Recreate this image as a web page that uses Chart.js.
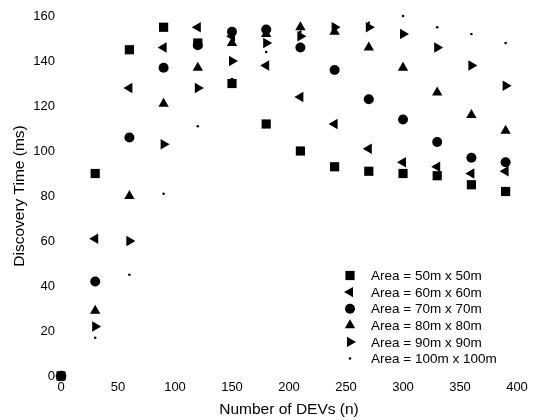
<!DOCTYPE html>
<html>
<head>
<meta charset="utf-8">
<script src="https://cdn.jsdelivr.net/npm/chart.js@4"></script>
<style>
  html, body { margin: 0; padding: 0; background: #fff; }
  #wrap { width: 537px; height: 420px; position: relative; }
</style>
</head>
<body>
<div id="wrap"><canvas id="discoveryChart"></canvas></div>
<script>
// number of DEVs on the x axis
var devCounts = [0, 30, 60, 90, 120, 150, 180, 210, 240, 270, 300, 330, 360, 390];
// discovery time (ms) per area size
var area50 = [0, 90, 145, 155, 148, 130, 112, 100, 93, 91, 90, 89, 85, 82];
var area60 = [0, 61, 128, 146, 155, 151, 138, 124, 112, 101, 95, 93, 90, 91];
var area70 = [0, 42, 106, 137, 147, 153, 154, 146, 136, 123, 114, 104, 97, 95];
var area80 = [0, 29, 80, 121, 137, 148, 152, 155, 153, 146, 137, 126, 116, 109];
var area90 = [0, 22, 60, 103, 128, 140, 148, 151, 155, 155, 152, 146, 138, 129];
var area100 = [0, 17, 45, 81, 111, 132, 144, 153, 156, 157, 160, 155, 152, 148];
var seriesLabels = ['Area = 50m x 50m', 'Area = 60m x 60m', 'Area = 70m x 70m',
                    'Area = 80m x 80m', 'Area = 90m x 90m', 'Area = 100m x 100m'];
var xTicks = [0, 50, 100, 150, 200, 250, 300, 350, 400];
var yTicks = [0, 20, 40, 60, 80, 100, 120, 140, 160];

var FONT = '"Liberation Sans", Arial, Helvetica, sans-serif';

function toPoints(values) {
    return values.map(function(v, i) { return {x: devCounts[i], y: v}; });
}

function makeSet(label, values, style, radius, rotation) {
    return {
        label: label,
        data: toPoints(values),
        pointStyle: style,
        pointRadius: radius,
        pointHoverRadius: radius,
        pointRotation: rotation || 0,
        backgroundColor: '#000',
        borderColor: '#000',
        borderWidth: 0,
        showLine: false,
        clip: false
    };
}

// legend drawn inside the plot, lower right
var insideLegend = {
    id: 'insideLegend',
    afterDraw: function(chart) {
        var ctx = chart.ctx;
        var opts = chart.options.plugins.insideLegend;
        ctx.save();
        ctx.font = '13.5px ' + FONT;
        ctx.textBaseline = 'middle';
        ctx.textAlign = 'left';
        chart.data.datasets.forEach(function(ds, i) {
            var y = opts.top + i * opts.rowHeight;
            ctx.fillStyle = '#000';
            ctx.strokeStyle = '#000';
            Chart.helpers.drawPoint(ctx, {
                pointStyle: ds.pointStyle,
                radius: ds.pointRadius,
                rotation: ds.pointRotation,
                borderWidth: 0
            }, opts.markerX, y);
            ctx.fillText(ds.label, opts.textX, y + 1);
        });
        ctx.restore();
    }
};

var ctx = document.getElementById('discoveryChart').getContext('2d');
new Chart(ctx, {
    type: 'scatter',
    data: {
        datasets: [
            makeSet(seriesLabels[0], area50, 'rect', 6.5),
            makeSet(seriesLabels[1], area60, 'triangle', 6, -90),
            makeSet(seriesLabels[2], area70, 'circle', 5),
            makeSet(seriesLabels[3], area80, 'triangle', 6),
            makeSet(seriesLabels[4], area90, 'triangle', 6, 90),
            makeSet(seriesLabels[5], area100, 'circle', 1.3)
        ]
    },
    options: {
        responsive: true,
        maintainAspectRatio: false,
        animation: false,
        layout: { padding: { top: 16, right: 20, left: 0, bottom: 0 } },
        plugins: {
            legend: { display: false },
            tooltip: { enabled: false },
            insideLegend: { markerX: 350, textX: 371, top: 275.5, rowHeight: 16.6 }
        },
        scales: {
            x: {
                type: 'linear',
                min: 0,
                max: 400,
                grid: { display: false, drawTicks: false },
                border: { display: false },
                afterBuildTicks: function(scale) {
                    scale.ticks = xTicks.map(function(v) { return {value: v}; });
                },
                afterFit: function(scale) { scale.height = 44; },
                ticks: {
                    padding: 4,
                    color: '#000',
                    maxRotation: 0,
                    font: { family: FONT, size: 13 }
                },
                title: {
                    display: true,
                    text: 'Number of DEVs (n)',
                    color: '#000',
                    padding: { top: 0, bottom: 1 },
                    font: { family: FONT, size: 15.5 }
                }
            },
            y: {
                type: 'linear',
                min: 0,
                max: 160,
                grid: { display: false, drawTicks: false },
                border: { display: false },
                afterBuildTicks: function(scale) {
                    scale.ticks = yTicks.map(function(v) { return {value: v}; });
                },
                afterFit: function(scale) { scale.width = 61; },
                ticks: {
                    padding: 6,
                    color: '#000',
                    font: { family: FONT, size: 13 }
                },
                title: {
                    display: true,
                    text: 'Discovery Time (ms)',
                    color: '#000',
                    padding: { top: 10.5, bottom: 0 },
                    font: { family: FONT, size: 15.5 }
                }
            }
        }
    },
    plugins: [insideLegend]
});
</script>
</body>
</html>
